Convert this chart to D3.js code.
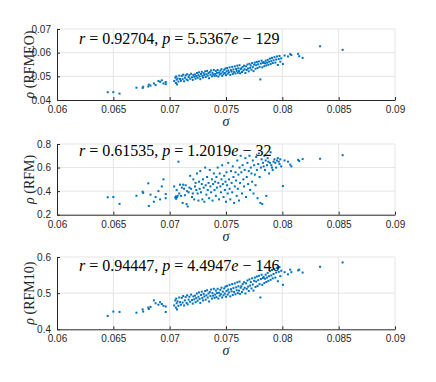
<!DOCTYPE html>
<html>
<head>
<meta charset="utf-8">
<script src="https://cdn.jsdelivr.net/npm/d3@7"></script>
<style>
  body { margin: 0; background: #fff; }
  svg { display: block; }
</style>
</head>
<body>
<svg id="chart"></svg>
<script>
const width = 436;
const height = 382;

// sigma shared by all three panels
const sigma = [
  0.06450, 0.06500, 0.06555, 0.06705, 0.06760, 0.06765, 0.06810, 0.06815, 0.06830, 0.06860,
  0.06875, 0.06900, 0.06915, 0.06930, 0.06945, 0.06965, 0.06965,
  0.07040, 0.07050, 0.07055, 0.07058, 0.07062, 0.07065, 0.07070, 0.07078, 0.07085, 0.07092,
  0.07100, 0.07108, 0.07115, 0.07120, 0.07128, 0.07135, 0.07142, 0.07150, 0.07155, 0.07160,
  0.07168, 0.07175, 0.07182, 0.07190, 0.07198, 0.07205, 0.07210, 0.07218,
  0.07225, 0.07230, 0.07236, 0.07242, 0.07248, 0.07255, 0.07260, 0.07266, 0.07272, 0.07278,
  0.07285, 0.07290, 0.07296, 0.07302, 0.07308, 0.07315, 0.07320, 0.07326, 0.07332, 0.07338,
  0.07345, 0.07350, 0.07356, 0.07362, 0.07368, 0.07375, 0.07380, 0.07386, 0.07392, 0.07398,
  0.07404, 0.07410, 0.07415, 0.07420, 0.07426, 0.07432, 0.07438, 0.07444, 0.07450, 0.07455,
  0.07460, 0.07466, 0.07472, 0.07478, 0.07484, 0.07490, 0.07495, 0.07500, 0.07505, 0.07510,
  0.07515, 0.07520, 0.07526, 0.07532, 0.07538, 0.07544, 0.07550, 0.07555, 0.07560, 0.07566,
  0.07572, 0.07578, 0.07584, 0.07590, 0.07595, 0.07600, 0.07605, 0.07610, 0.07615, 0.07620,
  0.07625, 0.07630,
  0.07636, 0.07642, 0.07648, 0.07654, 0.07660, 0.07666, 0.07672, 0.07678, 0.07684, 0.07690,
  0.07696, 0.07702, 0.07708, 0.07714, 0.07720, 0.07726, 0.07732, 0.07738, 0.07744, 0.07750,
  0.07756, 0.07762, 0.07768, 0.07774, 0.07780, 0.07786, 0.07792, 0.07798, 0.07805, 0.07810,
  0.07816, 0.07822, 0.07828,
  0.07834, 0.07840, 0.07846, 0.07852, 0.07858, 0.07864, 0.07870, 0.07876, 0.07882, 0.07890,
  0.07896, 0.07902, 0.07908, 0.07915, 0.07922, 0.07930, 0.07938, 0.07945, 0.07952, 0.07960,
  0.07968, 0.07975, 0.07982, 0.07990,
  0.08005, 0.08020, 0.08050, 0.08070, 0.08080, 0.08140, 0.08150, 0.08180, 0.08335, 0.08535
];

const rhoRFMEO = [
  0.0433, 0.0433, 0.0427, 0.0452, 0.0451, 0.0456, 0.0457, 0.0465, 0.0461, 0.0470,
  0.0463, 0.0480, 0.0477, 0.0483, 0.0470, 0.0476, 0.0467,
  0.0480, 0.0495, 0.0472, 0.0500, 0.0486, 0.0466, 0.0491, 0.0478, 0.0503, 0.0489,
  0.0481, 0.0502, 0.0488, 0.0507, 0.0479, 0.0494, 0.0504, 0.0487, 0.0509, 0.0483,
  0.0497, 0.0505, 0.0490, 0.0511, 0.0496, 0.0485, 0.0506, 0.0498,
  0.0508, 0.0490, 0.0501, 0.0514, 0.0494, 0.0505, 0.0517, 0.0499, 0.0488, 0.0510,
  0.0519, 0.0502, 0.0495, 0.0513, 0.0506, 0.0521, 0.0497, 0.0509, 0.0523, 0.0503,
  0.0514, 0.0492, 0.0518, 0.0507, 0.0525, 0.0500, 0.0515, 0.0508, 0.0527, 0.0502,
  0.0510, 0.0522, 0.0503, 0.0515, 0.0527, 0.0499, 0.0516, 0.0508, 0.0524, 0.0512,
  0.0530, 0.0502, 0.0519, 0.0509, 0.0528, 0.0514, 0.0533, 0.0505, 0.0521, 0.0535,
  0.0511, 0.0525, 0.0517, 0.0538, 0.0506, 0.0526, 0.0520, 0.0540, 0.0510, 0.0529,
  0.0518, 0.0542, 0.0512, 0.0531, 0.0523, 0.0545, 0.0515, 0.0534, 0.0522, 0.0547,
  0.0513, 0.0530,
  0.0534, 0.0518, 0.0540, 0.0525, 0.0545, 0.0530, 0.0514, 0.0542, 0.0527, 0.0550,
  0.0533, 0.0521, 0.0553, 0.0536, 0.0546, 0.0528, 0.0556, 0.0539, 0.0522, 0.0549,
  0.0558, 0.0532, 0.0547, 0.0561, 0.0535, 0.0551, 0.0563, 0.0540, 0.0487, 0.0554,
  0.0566, 0.0538, 0.0557,
  0.0560, 0.0543, 0.0555, 0.0566, 0.0546, 0.0558, 0.0570, 0.0549, 0.0562, 0.0575,
  0.0552, 0.0564, 0.0578, 0.0556, 0.0568, 0.0581, 0.0558, 0.0571, 0.0584, 0.0548,
  0.0573, 0.0586, 0.0562, 0.0576,
  0.0552, 0.0588, 0.0584, 0.0594, 0.0590, 0.0595, 0.0585, 0.0578, 0.0627, 0.0612
];

const rhoRFM = [
  0.348, 0.350, 0.292, 0.361, 0.395, 0.385, 0.466, 0.274, 0.370, 0.310,
  0.350, 0.400, 0.330, 0.440, 0.500, 0.375, 0.340,
  0.440, 0.345, 0.355, 0.335, 0.410, 0.350, 0.360, 0.650, 0.380, 0.455,
  0.360, 0.430, 0.300, 0.455, 0.420, 0.365, 0.450, 0.290, 0.400, 0.270,
  0.390, 0.430, 0.530, 0.420, 0.350, 0.380, 0.500, 0.330,
  0.440, 0.470, 0.410, 0.550, 0.380, 0.320, 0.480, 0.420, 0.570, 0.390,
  0.460, 0.330, 0.500, 0.430, 0.310, 0.600, 0.450, 0.370, 0.520, 0.410,
  0.470, 0.340, 0.580, 0.440, 0.390, 0.500, 0.320, 0.460, 0.550, 0.410,
  0.480, 0.360, 0.520, 0.430, 0.600, 0.470, 0.330, 0.550, 0.440, 0.390,
  0.500, 0.620, 0.460, 0.350, 0.530, 0.410, 0.480, 0.310, 0.560, 0.450,
  0.380, 0.640, 0.500, 0.420, 0.330, 0.570, 0.470, 0.390, 0.610, 0.520,
  0.300, 0.440, 0.560, 0.490, 0.360, 0.660, 0.420, 0.540, 0.320, 0.600,
  0.470, 0.700,
  0.560, 0.380, 0.620, 0.500, 0.440, 0.580, 0.680, 0.350, 0.520, 0.640,
  0.460, 0.570, 0.700, 0.410, 0.600, 0.550, 0.480, 0.660, 0.380, 0.620,
  0.540, 0.450, 0.690, 0.580, 0.340, 0.630, 0.720, 0.520, 0.300, 0.600,
  0.670, 0.290, 0.640,
  0.610, 0.700, 0.580, 0.660, 0.360, 0.620, 0.680, 0.650, 0.550, 0.640,
  0.730, 0.620, 0.600, 0.580, 0.650, 0.670, 0.640, 0.600, 0.660, 0.680,
  0.650, 0.630, 0.670, 0.610,
  0.443, 0.660, 0.650, 0.625, 0.610, 0.665, 0.655, 0.672, 0.675, 0.705
];

const rhoRFM10 = [
  0.437, 0.449, 0.448, 0.446, 0.455, 0.449, 0.460, 0.456, 0.462, 0.480,
  0.472, 0.468, 0.475, 0.470, 0.465, 0.463, 0.448,
  0.466, 0.480, 0.460, 0.485, 0.472, 0.455, 0.477, 0.465, 0.488, 0.475,
  0.468, 0.487, 0.474, 0.492, 0.466, 0.480, 0.489, 0.473, 0.494, 0.469,
  0.482, 0.490, 0.476, 0.496, 0.481, 0.471, 0.491, 0.483,
  0.493, 0.475, 0.486, 0.499, 0.479, 0.490, 0.502, 0.484, 0.473, 0.495,
  0.504, 0.487, 0.480, 0.498, 0.491, 0.506, 0.482, 0.494, 0.508, 0.488,
  0.499, 0.477, 0.503, 0.492, 0.510, 0.485, 0.500, 0.493, 0.512, 0.487,
  0.496, 0.507, 0.489, 0.500, 0.512, 0.485, 0.501, 0.493, 0.509, 0.497,
  0.515, 0.488, 0.504, 0.494, 0.513, 0.499, 0.518, 0.490, 0.506, 0.520,
  0.496, 0.510, 0.502, 0.523, 0.491, 0.511, 0.505, 0.525, 0.495, 0.514,
  0.503, 0.527, 0.497, 0.516, 0.508, 0.530, 0.500, 0.519, 0.507, 0.532,
  0.498, 0.515,
  0.519, 0.503, 0.525, 0.510, 0.530, 0.515, 0.499, 0.527, 0.512, 0.535,
  0.518, 0.506, 0.538, 0.521, 0.531, 0.513, 0.541, 0.524, 0.507, 0.534,
  0.543, 0.517, 0.532, 0.546, 0.520, 0.536, 0.548, 0.525, 0.488, 0.539,
  0.551, 0.523, 0.542,
  0.545, 0.528, 0.540, 0.551, 0.531, 0.543, 0.556, 0.534, 0.547, 0.561,
  0.537, 0.549, 0.564, 0.541, 0.553, 0.567, 0.543, 0.557, 0.570, 0.533,
  0.559, 0.572, 0.547, 0.562,
  0.523, 0.558, 0.552, 0.565, 0.558, 0.563, 0.565, 0.557, 0.573, 0.585
];

const xTicks = [0.06, 0.065, 0.07, 0.075, 0.08, 0.085, 0.09];
const yTicksRFMEO = [0.04, 0.05, 0.06, 0.07];
const yTicksRFM = [0.2, 0.4, 0.6, 0.8];
const yTicksRFM10 = [0.4, 0.5, 0.6];

const names = ["RFMEO", "RFM", "RFM10"];
const rValues = ["0.92704", "0.61535", "0.94447"];
const pMantissa = ["5.5367", "1.2019", "4.4947"];
const pExponent = ["129", "32", "146"];

// layout of each axes box (pixels)
const left = 57, right = 395;
const panels = [
  { values: rhoRFMEO, ticks: yTicksRFMEO, top: 29, bottom: 100, textY: 44 },
  { values: rhoRFM, ticks: yTicksRFM, top: 144, bottom: 214.7, textY: 156 },
  { values: rhoRFM10, ticks: yTicksRFM10, top: 257, bottom: 329.3, textY: 271 }
];

const svg = d3.select("#chart").attr("width", width).attr("height", height);

const axisColor = "#262626";
const gridColor = "#e5e5e5";
const dotColor = "#0072BD";
const serif = "'Liberation Serif', 'DejaVu Serif', serif";
const sans = "'Liberation Sans', Arial, sans-serif";
const fmt = d => String(+d.toFixed(3));

const x = d3.scaleLinear().domain([0.06, 0.09]).range([left, right]);

panels.forEach((p, i) => {
  const ticks = p.ticks;
  const y = d3.scaleLinear().domain([ticks[0], ticks[ticks.length - 1]]).range([p.bottom, p.top]);
  const g = svg.append("g");

  // grid
  g.selectAll(".gx").data(xTicks.slice(1)).enter().append("line")
    .attr("x1", d => x(d)).attr("x2", d => x(d))
    .attr("y1", p.top).attr("y2", p.bottom)
    .attr("stroke", gridColor).attr("stroke-width", 1);
  g.selectAll(".gy").data(ticks.slice(1)).enter().append("line")
    .attr("x1", left).attr("x2", right)
    .attr("y1", d => y(d)).attr("y2", d => y(d))
    .attr("stroke", gridColor).attr("stroke-width", 1);

  // points
  g.selectAll("rect.pt").data(sigma).enter().append("rect")
    .attr("class", "pt")
    .attr("x", d => x(d) - 1)
    .attr("y", (d, j) => y(p.values[j]) - 1)
    .attr("width", 2).attr("height", 2)
    .attr("fill", dotColor);

  // axes
  const xAxis = d3.axisBottom(x).tickValues(xTicks).tickFormat(fmt).tickSizeInner(-3).tickSizeOuter(0).tickPadding(6);
  const yAxis = d3.axisLeft(y).tickValues(ticks).tickFormat(fmt).tickSizeInner(-3).tickSizeOuter(0).tickPadding(6);

  const gx = g.append("g").attr("transform", `translate(0,${p.bottom})`).call(xAxis);
  const gy = g.append("g").attr("transform", `translate(${left},0)`).call(yAxis);
  [gx, gy].forEach(a => {
    a.select(".domain").attr("stroke", axisColor).attr("stroke-width", 1);
    a.selectAll(".tick line").attr("stroke", axisColor);
    a.selectAll(".tick text").attr("fill", axisColor)
      .style("font-family", sans).style("font-size", "10px");
  });

  // x label
  g.append("text")
    .attr("x", (left + right) / 2).attr("y", p.bottom + 26)
    .attr("text-anchor", "middle")
    .style("font-family", serif).style("font-style", "italic").style("font-size", "14px")
    .attr("fill", axisColor)
    .text("σ");

  // y label
  const yl = g.append("text")
    .attr("transform", `translate(34,${(p.top + p.bottom) / 2}) rotate(-90)`)
    .attr("text-anchor", "middle")
    .style("font-family", serif).style("font-size", "14px")
    .attr("fill", axisColor);
  yl.append("tspan").style("font-style", "italic").text("ρ");
  yl.append("tspan").text(` (${names[i]})`);

  // annotation
  const t = g.append("text")
    .attr("x", 79).attr("y", p.textY)
    .style("font-family", serif).style("font-size", "16px")
    .attr("fill", "#000");
  t.append("tspan").style("font-style", "italic").text("r");
  t.append("tspan").text(` = ${rValues[i]}, `);
  t.append("tspan").style("font-style", "italic").text("p");
  t.append("tspan").text(` = ${pMantissa[i]}`);
  t.append("tspan").style("font-style", "italic").text("e");
  t.append("tspan").text(` − ${pExponent[i]}`);
});
</script>
</body>
</html>
